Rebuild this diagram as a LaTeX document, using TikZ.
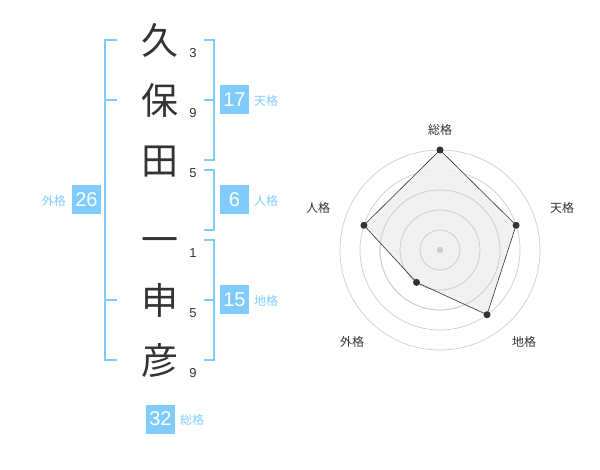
\documentclass[tikz,border=0pt]{standalone}
\usepackage{fontspec}
\setmainfont{Liberation Sans}
\newfontfamily\jp{Noto Sans CJK JP}
\definecolor{kblue}{HTML}{80CCFF}
\definecolor{kdark}{HTML}{333333}
\definecolor{kgrid}{HTML}{CCCCCC}
\definecolor{kfill}{HTML}{EFEFEF}
\begin{document}
\begin{tikzpicture}[x=1pt,y=-1pt,
  kanji/.style={font=\jp\fontsize{37}{37}\selectfont, text=kdark, inner sep=0pt, text height=0.88em, text depth=0.12em},
  strokes/.style={font=\fontsize{13}{13}\selectfont, text=kdark, inner sep=0pt},
  kbox/.style={fill=kblue, text=white, font=\fontsize{20}{20}\selectfont, minimum width=29pt, minimum height=29pt, inner sep=0pt},
  klabel/.style={font=\jp\fontsize{12}{12}\selectfont, text=kblue, inner sep=0pt},
  bracket/.style={draw=kblue, line width=1.8pt},
  rlabel/.style={font=\jp\fontsize{12}{12}\selectfont, text=kdark, inner sep=0pt},
  ring/.style={draw=kgrid, line width=0.7pt},
  rdot/.style={circle, fill=kdark, inner sep=0pt, minimum size=7pt}]
\useasboundingbox (0,0) rectangle (600,470);
% characters
\node[kanji] (c1) at (160,51) {久};
\node[kanji] (c2) at (160,111) {保};
\node[kanji] (c3) at (160,171) {田};
\node[kanji] (c4) at (160,250) {一};
\node[kanji] (c5) at (160,311) {申};
\node[kanji] (c6) at (160,371) {彦};
% stroke counts
\node[strokes] (s1) at (193,53) {3};
\node[strokes] (s2) at (193,113) {9};
\node[strokes] (s3) at (193,173) {5};
\node[strokes] (s4) at (193,253) {1};
\node[strokes] (s5) at (193,313) {5};
\node[strokes] (s6) at (193,373) {9};
% left bracket (gaikaku)
\draw[bracket] (117,40) -- (105,40) -- (105,360) -- (117,360);
\draw[bracket] (105,100) -- (117,100);
\draw[bracket] (105,300) -- (117,300);
% right brackets
\draw[bracket] (204,40) -- (214,40) -- (214,160) -- (204,160);
\draw[bracket] (204,100) -- (214,100);
\draw[bracket] (204,170) -- (214,170) -- (214,230) -- (204,230);
\draw[bracket] (204,240) -- (214,240) -- (214,360) -- (204,360);
\draw[bracket] (204,300) -- (214,300);
% boxes and labels
\node[kbox] (b17) at (234.5,100) {17};
\node[klabel, anchor=west] (l17) at (254,101) {天格};
\node[kbox] (b6) at (234.5,200) {6};
\node[klabel, anchor=west] (l6) at (254,201) {人格};
\node[kbox] (b15) at (234.5,300) {15};
\node[klabel, anchor=west] (l15) at (254,301) {地格};
\node[kbox] (b26) at (86.5,200) {26};
\node[klabel, anchor=east] (l26) at (66,201) {外格};
\node[kbox] (b32) at (160.5,419) {32};
\node[klabel, anchor=west] (l32) at (180,420) {総格};
% radar chart
\begin{scope}[shift={(440,250)}, yscale=-1]
  \foreach \r in {20,40,60,80,100} \draw[ring] (0,0) circle (\r);
  \fill[kgrid] (0,0) circle (3.2);
  \coordinate (p1) at (90:100);
  \coordinate (p2) at (18:80);
  \coordinate (p3) at (-54:80);
  \coordinate (p4) at (-126:40);
  \coordinate (p5) at (162:80);
  \fill[kfill, opacity=0.85] (p1) -- (p2) -- (p3) -- (p4) -- (p5) -- cycle;
  \foreach \r in {20,40,60} \draw[ring] (0,0) circle (\r);
  \fill[kgrid] (0,0) circle (3.2);
  \draw[kdark, line width=0.6pt] (p1) -- (p2) -- (p3) -- (p4) -- (p5) -- cycle;
  \foreach \p in {p1,p2,p3,p4,p5} \node[rdot] at (\p) {};
\end{scope}
\node[rlabel] (r1) at (440,130) {総格};
\node[rlabel] (r2) at (562,208) {天格};
\node[rlabel] (r3) at (524,342) {地格};
\node[rlabel] (r4) at (352,342) {外格};
\node[rlabel] (r5) at (318,208) {人格};
\end{tikzpicture}
\end{document}
